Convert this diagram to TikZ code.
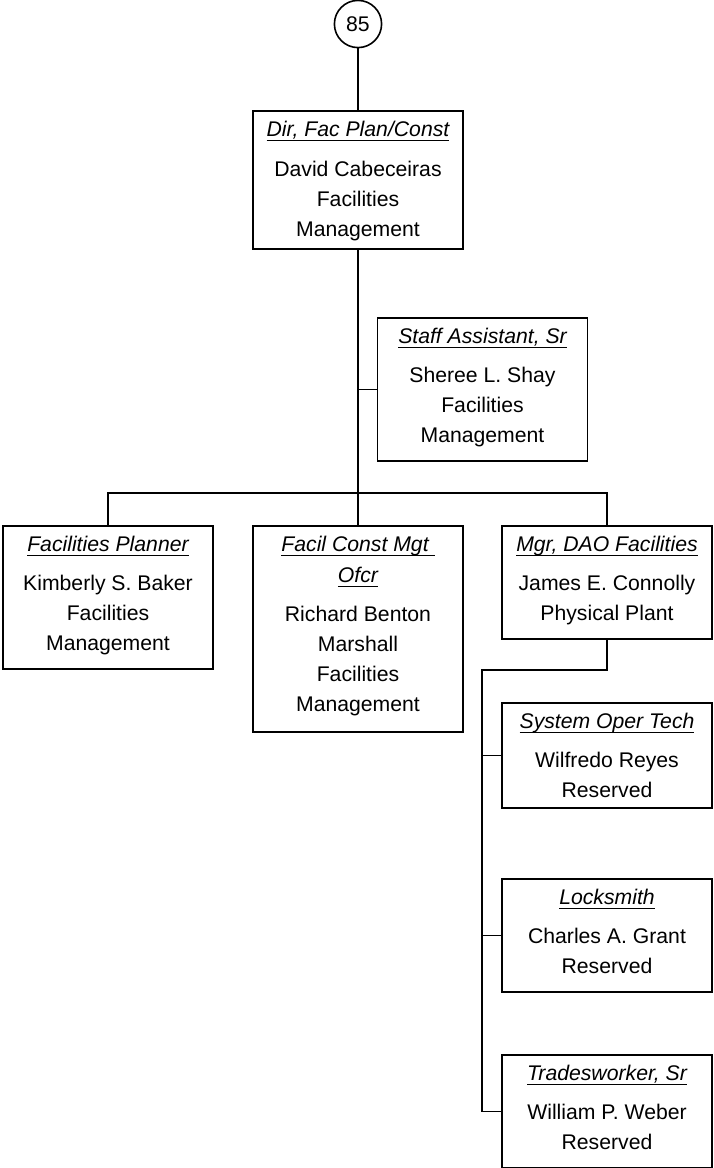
\documentclass[tikz,border=0pt]{standalone}
\usepackage{fontspec}
\setmainfont{Liberation Sans}
\usepackage{tikz}
\usetikzlibrary{positioning}

% underlined italic job title
\newcommand{\uit}[1]{\setbox0\hbox{\itshape #1}%
  \rlap{\rule[-2.2pt]{\wd0}{0.9pt}}\box0}
\newcommand{\ttl}[1]{\rule{0pt}{13pt}\uit{#1}}
\newcommand{\lastgap}[1][9pt]{\rule[-#1]{0pt}{#1}}

\begin{document}
\begin{tikzpicture}[
    x=0.5pt, y=-0.5pt,
    post/.style={draw, line width=0.9pt, minimum width=105pt, inner sep=0pt,
                 align=center, anchor=north,
                 font=\fontsize{10.6}{15}\selectfont},
    link/.style={line width=0.9pt}
  ]
    \useasboundingbox (0,0) rectangle (713,1168);

    \node[circle, draw, line width=0.8pt, minimum size=23.6pt, inner sep=0pt,
          font=\fontsize{10.6}{15}\selectfont] (chart) at (358,24) {85};

    \node[post] (dir) at (358,110)
      {\ttl{Dir, Fac Plan/Const}\\[5pt] David Cabeceiras\\ Facilities\\
       Management\lastgap[6pt]};
    \node[post] (staff) at (482.5,317)
      {\ttl{Staff Assistant, Sr}\\[4.5pt] Sheree L. Shay\\ Facilities\\
       Management\lastgap};

    \node[post] (plan) at (108,525)
      {\ttl{Facilities Planner}\\[4.5pt] Kimberly S. Baker\\ Facilities\\
       Management\lastgap};
    \node[post] (const) at (358,525)
      {\ttl{Facil Const Mgt\ }\\[0.5pt] \uit{Ofcr}\\[4.5pt] Richard Benton\\
       Marshall\\ Facilities\\ Management\lastgap[10pt]};
    \node[post] (dao) at (607,525)
      {\ttl{Mgr, DAO Facilities}\\[4.5pt] James E. Connolly\\
       Physical Plant\lastgap};

    \node[post] (sys) at (607,702)
      {\ttl{System Oper Tech}\\[4.5pt] Wilfredo Reyes\\ Reserved\lastgap[5pt]};
    \node[post] (lock) at (607,878)
      {\ttl{Locksmith}\\[4.5pt] Charles A. Grant\\ Reserved\lastgap};
    \node[post] (trade) at (607,1054)
      {\ttl{Tradesworker, Sr}\\[4.5pt] William P. Weber\\ Reserved\lastgap};

    \coordinate (bar) at (358,493);
    \coordinate (elbow) at (482,670);

    \draw[link] (chart) -- (dir);
    \draw[link] (dir) -- (bar);
    \draw[link] (dir.south) |- (staff.west);
    \draw[link] (plan) |- (bar) -| (dao);
    \draw[link] (bar) -- (const);

    \draw[link] (dao.south) |- (elbow) |- (trade.west);
    \draw[link] (elbow) |- (sys.west);
    \draw[link] (elbow) |- (lock.west);
\end{tikzpicture}
\end{document}
